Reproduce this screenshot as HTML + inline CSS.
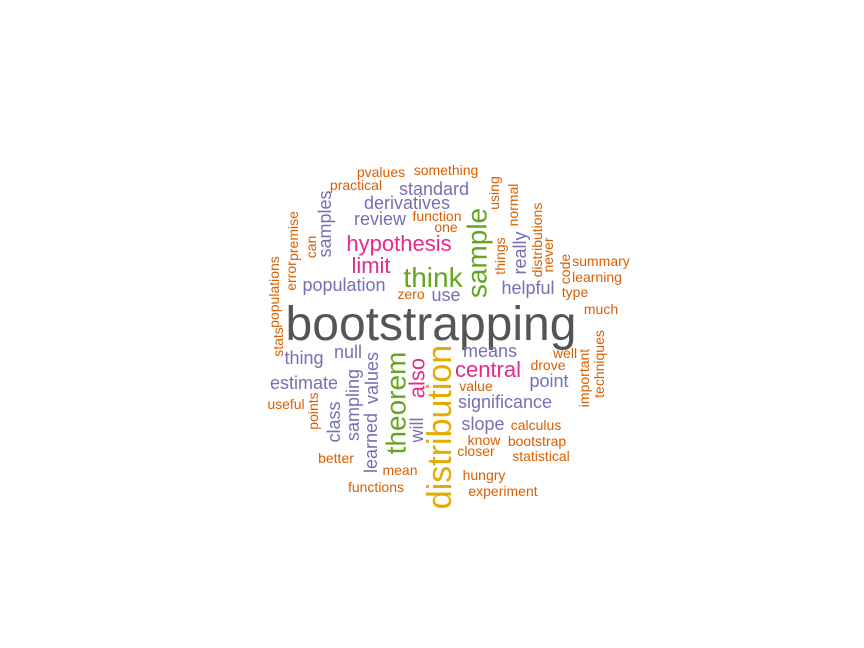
<!DOCTYPE html>
<html><head><meta charset="utf-8"><style>html,body{margin:0;background:#fff}svg{display:block}text{font-family:"Liberation Sans",Arial,sans-serif}</style></head>
<body>
<svg id="c" width="864" height="648" viewBox="0 0 864 648" xmlns="http://www.w3.org/2000/svg"></svg>
<script>
const words=["pvalues","something","practical","standard","derivatives","review","function","one","hypothesis","limit","think","population","zero","use","helpful","summary","learning","type","much","bootstrapping","thing","null","means","central","well","drove","point","estimate","value","significance","useful","slope","calculus","know","bootstrap","closer","statistical","better","mean","hungry","functions","experiment",
"using","normal","things","really","distributions","never","code","sample","samples","can","premise","error","populations","stats","sampling","values","learned","class","points","theorem","also","will","distribution","important","techniques"];
const xs=[381,446,356,434,407,380,437,446,399,371,433,344,411,446,528,601,597,575,601,431,304,348,490,488,565,548,549,304,476,505,286,483,536,484,537,476,541,336,400,484,376,503,
494,513,500,520,537,548,565,477,325,311,293,291,274,278,353,372,371,334,313,396,417,417,440,584,599];
const ys=[177,175,190,195,209,225,221,232,251,273,287,291,299,301,294,266,282,297,314,340,364,358,357,377,358,370,387,389,391,408,409,430,430,445,446,456,461,463,475,480,492,496,
193,205,256,253,240,255,269,253,224,247,236,276,292,342,405,378,443,422,411,403,378,430,427,378,364];
const lvl=[0,0,0,1,1,1,0,0,2,2,3,1,0,1,1,0,0,0,0,5,1,1,1,2,0,0,1,1,0,1,0,1,0,0,0,0,0,0,0,0,0,0,
0,0,0,1,0,0,0,3,1,0,0,0,0,0,1,1,1,1,0,3,2,1,4,0,0];
const rot=words.map((w,i)=>i>=42?1:0);
const sizes=[14,18,22,28,34,48];
const cols=["#D95F02","#7570B3","#E7298A","#66A61E","#E6AB02","#555555"];
const svg=document.getElementById('c');
words.forEach((w,i)=>{
  const t=document.createElementNS('http://www.w3.org/2000/svg','text');
  const s=sizes[lvl[i]];
  t.setAttribute('font-size',s);
  t.setAttribute('fill',cols[lvl[i]]);
  t.setAttribute('text-anchor','middle');
  if(rot[i]){
    t.setAttribute('dominant-baseline','central');
    t.setAttribute('x',xs[i]);t.setAttribute('y',ys[i]);
    t.setAttribute('transform','rotate(-90 '+xs[i]+' '+ys[i]+')');
  }else{
    t.setAttribute('x',xs[i]);t.setAttribute('y',ys[i]);
  }
  t.textContent=w;
  
  
  svg.appendChild(t);
});
</script>
</body></html>
